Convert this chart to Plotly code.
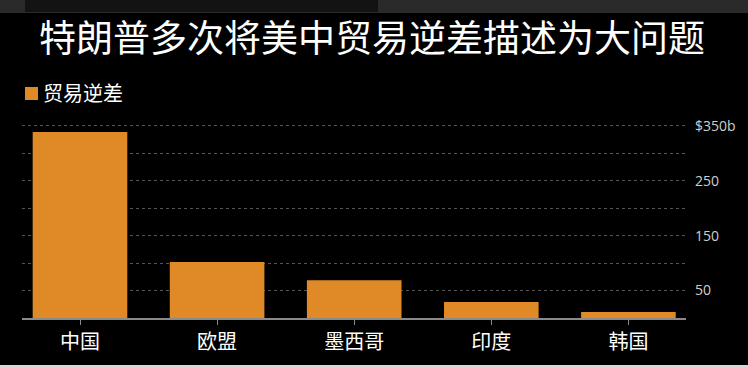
import plotly.graph_objects as go

categories = ["中国", "欧盟", "墨西哥", "印度", "韩国"]
deficit = [339, 102, 69, 29, 11]
series_name = "贸易逆差"
title_text = "特朗普多次将美中贸易逆差描述为大问题"
ytick_vals = [50, 100, 150, 200, 250, 300, 350]
ytick_text = ["50", "", "150", "", "250", "", "$350b"]
bar_color = "#DF8A26"

W, H = 748, 367
L, R, T, B = 22, 62, 115, 49
ph = H - T - B
pw = W - L - R

def px_x(p):
    return (p - L) / pw

def px_y(p):
    return (H - B - p) / ph

fig = go.Figure()
fig.add_trace(go.Bar(
    x=list(range(len(categories))), y=deficit, name=series_name,
    width=0.69, marker=dict(color=bar_color, line=dict(width=0)),
    showlegend=False,
))

fig.update_layout(
    width=W, height=H,
    margin=dict(l=L, r=R, t=T, b=B, pad=0),
    paper_bgcolor="#000000", plot_bgcolor="#000000",
    font=dict(family="Noto Sans CJK SC", color="#ffffff"),
    title=dict(text=title_text, x=0.4973, xanchor="center", y=1 - 39 / H, yanchor="middle",
               yref="container", xref="container",
               font=dict(size=37, color="#ffffff", family="Noto Sans CJK SC")),
    xaxis=dict(
        range=[-0.423, 4.42], tickmode="array",
        tickvals=list(range(len(categories))), ticktext=categories,
        showgrid=False, zeroline=False,
        showline=True, linecolor="#8a8a8a", linewidth=1.5,
        ticks="outside", ticklen=5, tickcolor="#8a8a8a", tickwidth=1,
        tickfont=dict(size=20, color="#ffffff", family="Noto Sans CJK SC"),
        fixedrange=True,
    ),
    yaxis=dict(
        range=[0, 370], side="right", tickmode="array",
        tickvals=ytick_vals, ticktext=ytick_text,
        showgrid=True, gridcolor="#555555", gridwidth=1, griddash="dot",
        zeroline=False, showline=False, ticks="",
        ticklabelstandoff=8,
        tickfont=dict(size=14, color="#cfcfcf", family="Open Sans"),
        fixedrange=True,
    ),
    shapes=[
        dict(type="rect", xref="paper", yref="paper", x0=px_x(0), x1=px_x(W),
             y0=px_y(13), y1=px_y(0), fillcolor="#2a2a2a", line=dict(width=0), layer="below"),
        dict(type="rect", xref="paper", yref="paper", x0=px_x(25), x1=px_x(378),
             y0=px_y(12), y1=px_y(0), fillcolor="#131313", line=dict(width=0), layer="below"),
        dict(type="rect", xref="paper", yref="paper", x0=px_x(0), x1=px_x(W),
             y0=px_y(H), y1=px_y(365), fillcolor="#d8d8d8", line=dict(width=0), layer="below"),
        # legend swatch
        dict(type="rect", xref="paper", yref="paper", x0=px_x(25), x1=px_x(38),
             y0=px_y(100), y1=px_y(87), fillcolor=bar_color, line=dict(width=0)),
    ],
    annotations=[
        dict(text=series_name, xref="paper", yref="paper", x=px_x(41), y=px_y(93),
             xanchor="left", yanchor="middle", showarrow=False,
             font=dict(size=20, color="#ffffff", family="Noto Sans CJK SC")),
    ],
)

fig.write_html("out.html")
